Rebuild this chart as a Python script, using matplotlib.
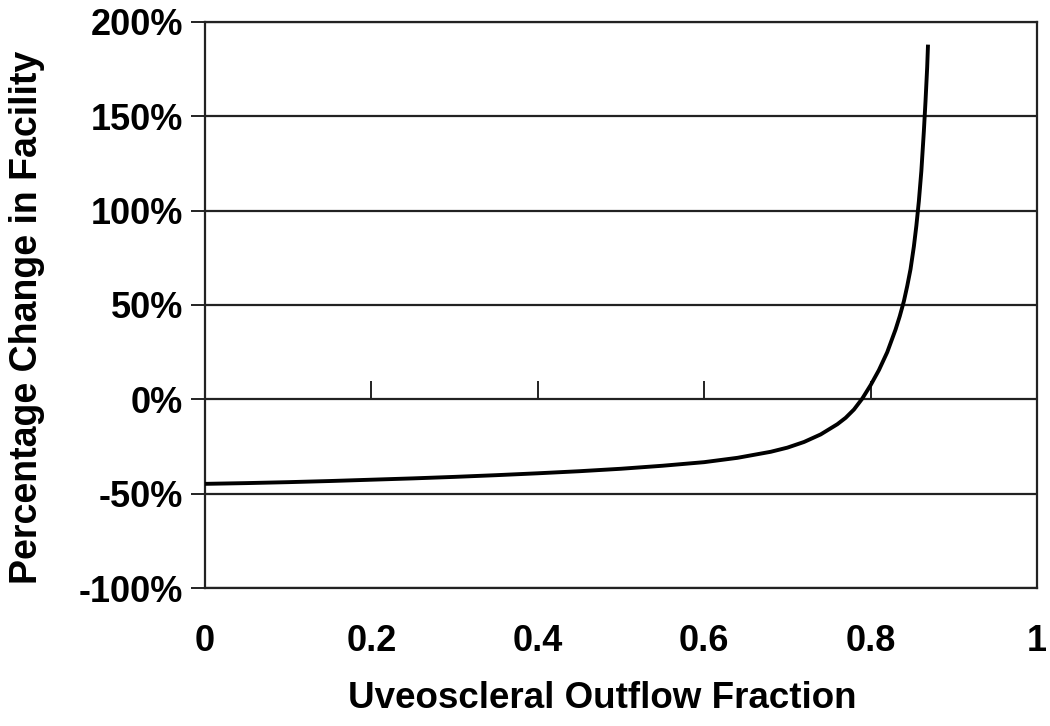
import matplotlib.pyplot as plt
from matplotlib.ticker import FuncFormatter

# uveoscleral outflow fraction vs percentage change in facility
fraction = [0.00, 0.05, 0.10, 0.15, 0.20, 0.25, 0.30, 0.35, 0.40, 0.45,
            0.50, 0.55, 0.60, 0.64, 0.68, 0.70, 0.72, 0.74, 0.76, 0.77,
            0.78, 0.79, 0.80, 0.81, 0.82, 0.83, 0.835, 0.84, 0.844, 0.848,
            0.852, 0.855, 0.858, 0.861, 0.864, 0.866, 0.868, 0.869]
change = [-44.8, -44.4, -43.9, -43.3, -42.6, -41.9, -41.1, -40.2, -39.2, -38.1,
          -36.8, -35.2, -33.3, -31.0, -27.8, -25.6, -22.6, -18.6, -13.2, -9.8,
          -5.4, 0.4, 7.5, 15.5, 25.0, 37.0, 44.0, 52.0, 60.0, 69.0,
          81.0, 92.0, 105.0, 121.0, 142.0, 158.0, 176.0, 188.0]

y_ticks = [-100, -50, 0, 50, 100, 150, 200]
x_ticks = [0, 0.2, 0.4, 0.6, 0.8, 1]
x_marks = [0.2, 0.4, 0.6, 0.8]

plt.rcParams['font.family'] = ['Liberation Sans', 'DejaVu Sans']
plt.rcParams['font.weight'] = 'bold'

fig = plt.figure(figsize=(10.5, 7.26), dpi=100)
ax = fig.add_axes([205 / 1050, 1 - 588 / 726, 832 / 1050, 566 / 726])

line_col = '#222222'
for y in y_ticks:
    ax.axhline(y, color=line_col, lw=1.6, zorder=1)

ax.plot(fraction, change, color='black', lw=2.8, zorder=3, solid_capstyle='butt')

ax.set_xlim(0, 1)
ax.set_ylim(-100, 200)
ax.set_yticks(y_ticks)
ax.yaxis.set_major_formatter(FuncFormatter(lambda v, p: '%d%%' % v))
ax.set_xticks(x_ticks)
ax.set_xticklabels(['0', '0.2', '0.4', '0.6', '0.8', '1'])

for s in ax.spines.values():
    s.set_color(line_col)
    s.set_linewidth(1.6)

ax.tick_params(axis='y', direction='out', length=10, width=1.4, color=line_col,
               labelsize=26, pad=6)
ax.tick_params(axis='x', length=0, labelsize=26, pad=26)

# small tick marks standing on the 0% line
sec = ax.secondary_xaxis(1 / 3)
sec.set_xticks(x_marks)
sec.set_xticklabels([])
sec.spines['bottom'].set_visible(False)
sec.spines['top'].set_visible(False)
sec.tick_params(direction='in', length=13, width=1.4, color=line_col)

ax.set_xlabel('Uveoscleral Outflow Fraction', fontsize=26.5, fontweight='bold')
ax.xaxis.set_label_coords(0.477, -0.165)
ax.set_ylabel('Percentage Change in Facility', fontsize=27, fontweight='bold')
ax.yaxis.set_label_coords(-0.192, 0.478)

fig.savefig('out.png', dpi=100)
